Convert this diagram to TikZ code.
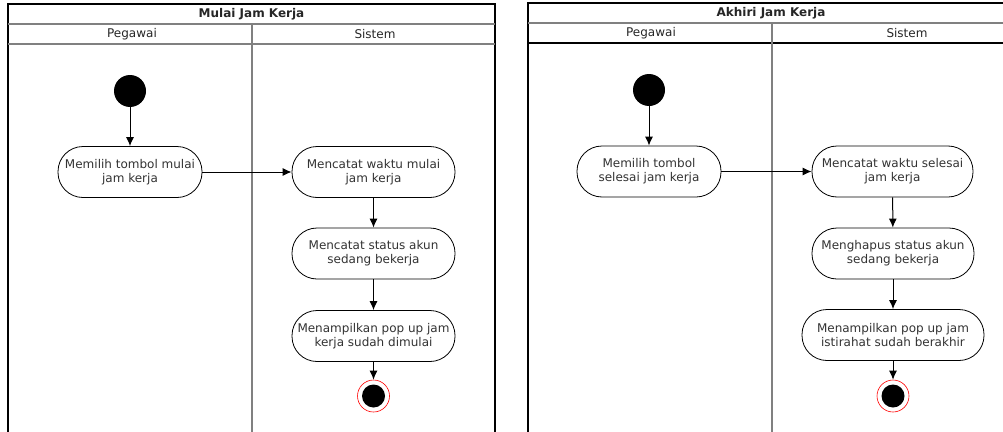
\documentclass[tikz,border=0pt]{standalone}
\usepackage{fontspec}
\setmainfont{DejaVu Sans}
\usetikzlibrary{arrows.meta}

\begin{document}
\begin{tikzpicture}[x=1pt,y=-1pt,
	act/.style={draw, line width=0.8pt, rounded corners=25pt, fill=white, align=center, minimum height=51pt, inner sep=1pt, font=\fontsize{12}{14}\selectfont, text=black!80},
	startstate/.style={circle, fill=black, minimum size=32pt, inner sep=0pt},
	endstate/.style={circle, draw=red, line width=0.6pt, fill=white, minimum size=32pt, inner sep=0pt, path picture={\fill[black] (path picture bounding box.center) circle (11.5pt);}},
	flow/.style={-{Latex[length=9pt,width=8pt]}, line width=1pt},
	lane/.style={line width=1.5pt},
	sep/.style={line width=1.8pt, gray},
	head/.style={font=\fontsize{12}{14}\selectfont, text=black!85}]
	
	\useasboundingbox (0,0) rectangle (1003,431);
	
	% Mulai Jam Kerja
	\draw[lane] (8,440) -- (8,4) -- (495,4) -- (495,440);
	\draw[sep] (8,24) -- (495,24);
	\draw[sep] (8,44) -- (495,44);
	\draw[sep] (252,24) -- (252,440);
	\node[head, font=\fontsize{12}{14}\selectfont\bfseries] (t1) at (251.5,14) {Mulai Jam Kerja};
	\node[head] (p1) at (132,34) {Pegawai};
	\node[head] (q1) at (375,34) {Sistem};
	
	\node[startstate] (s1) at (130,91) {};
	\node[act, minimum width=144pt] (a1) at (130,172) {Memilih tombol mulai\\jam kerja};
	\node[act, minimum width=163pt] (a2) at (373.5,172) {Mencatat waktu mulai\\jam kerja};
	\node[act, minimum width=163pt] (a3) at (373.5,253.5) {Mencatat status akun\\sedang bekerja};
	\node[act, minimum width=163pt] (a4) at (373.5,336) {Menampilkan pop up jam\\kerja sudah dimulai};
	\node[endstate] (e1) at (373.5,396) {};
	
	\draw[flow] (s1) -- (a1);
	\draw[flow] (a1) -- (a2);
	\draw[flow] (a2) -- (a3);
	\draw[flow] (a3) -- (a4);
	\draw[flow] (a4) -- (e1);
	
	% Akhiri Jam Kerja
	\draw[lane] (528,440) -- (528,3) -- (1010,3);
	\draw[sep] (528,23) -- (1010,23);
	\draw[lane] (528,43) -- (1010,43);
	\draw[sep] (772,23) -- (772,440);
	\node[head, font=\fontsize{12}{14}\selectfont\bfseries] (t2) at (771,13) {Akhiri Jam Kerja};
	\node[head] (p2) at (651,33) {Pegawai};
	\node[head] (q2) at (907,33) {Sistem};
	
	\node[startstate] (s2) at (649,90) {};
	\node[act, minimum width=144pt] (b1) at (649,171.5) {Memilih tombol\\selesai jam kerja};
	\node[act, minimum width=161pt] (b2) at (892.5,171.5) {Mencatat waktu selesai\\jam kerja};
	\node[act, minimum width=162pt] (b3) at (893,253.5) {Menghapus status akun\\sedang bekerja};
	\node[act, minimum width=182pt] (b4) at (893,335) {Menampilkan pop up jam\\istirahat sudah berakhir};
	\node[endstate] (e2) at (893,396) {};
	
	\draw[flow] (s2) -- (b1);
	\draw[flow] (b1) -- (b2);
	\draw[flow] (b2) -- (b3);
	\draw[flow] (b3) -- (b4);
	\draw[flow] (b4) -- (e2);
	
\end{tikzpicture}
\end{document}
